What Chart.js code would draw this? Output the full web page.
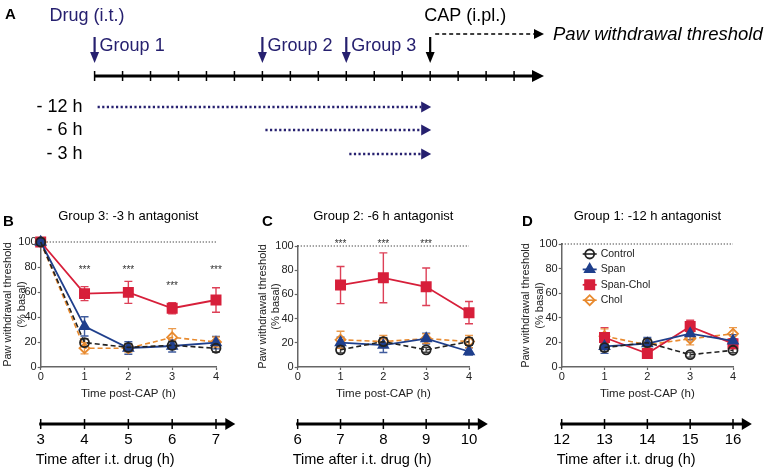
<!DOCTYPE html>
<html>
<head>
<meta charset="utf-8">
<script src="https://cdn.jsdelivr.net/npm/chart.js@4.4.1/dist/chart.umd.min.js"></script>
<style>
  html, body { margin: 0; padding: 0; background: #fff; }
  body { width: 768px; height: 471px; position: relative; overflow: hidden; }
  .box { position: absolute; }
</style>
</head>
<body>
<div class="box" style="left:0;top:0;width:768px;height:180px"><canvas id="panelA"></canvas></div>
<div class="box" style="left:0;top:190px;width:250px;height:281px"><canvas id="panelB"></canvas></div>
<div class="box" style="left:250px;top:190px;width:255px;height:281px"><canvas id="panelC"></canvas></div>
<div class="box" style="left:510px;top:190px;width:258px;height:281px"><canvas id="panelD"></canvas></div>
<script>
/*
 * Capsaicin paw withdrawal, three pretreatment groups.
 * Panel A is the protocol timeline, B-D are the time courses.
 */

var FONT = 'Arial, "Liberation Sans", Helvetica, sans-serif';

var COLORS = {
  black: '#222222',
  navy: '#1f3f8c',
  red: '#d71f3a',
  orange: '#e88a2e',
  arrow: '#26206f',
  axis: '#666666',
};

// ---- Panel A: protocol (hours relative to CAP) ----
var drugTimes = [-12, -6, -3];
var groupLabels = ['Group 1', 'Group 2', 'Group 3'];
var pretreatLabels = ['- 12 h', '- 6 h', '- 3 h'];
var capTime = 0;
var timelineTicks = [-12, -11, -10, -9, -8, -7, -6, -5, -4, -3, -2, -1, 0, 1, 2, 3];
var timelineEnd = 4.07;

// ---- Panel B: Group 3, -3 h antagonist ----
var hoursB = [0, 1, 2, 3, 4];
var controlB = [100, 19.5, 15.7, 17.3, 15];
var controlErrB = [0, 3, 3, 3, 3];
var spanB = [100, 32.5, 15.2, 16.8, 19.5];
var spanErrB = [0, 7.7, 5, 4.8, 5];
var spanCholB = [100, 58.7, 59.7, 47, 53.6];
var spanCholErrB = [0, 5.6, 8.8, 4.5, 9.8];
var cholB = [100, 15, 15, 23.7, 20];
var cholErrB = [0, 4.5, 3, 7, 4];
var sigHoursB = [1, 2, 3, 4];
var sigLevelB = [79, 79, 66, 79];
var drugHoursB = [3, 4, 5, 6, 7];

// ---- Panel C: Group 2, -6 h antagonist ----
var hoursC = [1, 2, 3, 4];
var controlC = [14.2, 21, 14.2, 21];
var controlErrC = [2.5, 3, 2, 3];
var spanC = [20.2, 18, 23.5, 12.8];
var spanErrC = [4.5, 6, 4.5, 3];
var spanCholC = [67.7, 73.7, 66.3, 44.9];
var spanCholErrC = [15.3, 20.6, 15.5, 9.2];
var cholC = [22.5, 21, 23.5, 21];
var cholErrC = [7, 5, 4, 5];
var sigHoursC = [1, 2, 3];
var sigLevelC = [103, 103, 103];
var drugHoursC = [6, 7, 8, 9, 10];

// ---- Panel D: Group 1, -12 h antagonist ----
var hoursD = [1, 2, 3, 4];
var controlD = [15.8, 19.8, 10, 13.6];
var controlErrD = [3, 3, 2, 2];
var spanD = [16.8, 19, 27.1, 21.2];
var spanErrD = [5.7, 5, 5, 5];
var spanCholD = [24, 11, 33, 19];
var spanCholErrD = [8, 3, 5, 4];
var cholD = [25, 18, 23, 27];
var cholErrD = [6, 4, 5, 5];
var sigHoursD = [];
var sigLevelD = [];
var drugHoursD = [12, 13, 14, 15, 16];

var postCapTicks = [0, 1, 2, 3, 4];
var baselineLevel = 100;

Chart.defaults.font.family = FONT;
Chart.defaults.color = COLORS.black;

/**
 * Small filled triangle arrow head; dir is 'down' or 'right'.
 */
function arrowHead(ctx, x, y, dir, len, half) {
  ctx.beginPath();
  if (dir === 'down') {
    ctx.moveTo(x, y);
    ctx.lineTo(x - half, y - len);
    ctx.lineTo(x + half, y - len);
  } else {
    ctx.moveTo(x, y);
    ctx.lineTo(x - len, y - half);
    ctx.lineTo(x - len, y + half);
  }
  ctx.closePath();
  ctx.fill();
}

function downArrow(ctx, x, top, tip, color) {
  ctx.strokeStyle = color;
  ctx.fillStyle = color;
  ctx.lineWidth = 2.2;
  ctx.setLineDash([]);
  ctx.beginPath();
  ctx.moveTo(x, top);
  ctx.lineTo(x, tip - 8);
  ctx.stroke();
  arrowHead(ctx, x, tip, 'down', 11, 4.5);
}

// rows of the protocol diagram (canvas y)
var A_ROWS = { text: 16, arrowTop: 37, arrowTip: 63, group: 46, dashed: 34, axis: 76, pretreat: [107, 130, 154] };

var protocolPlugin = {
  id: 'protocol',
  afterDraw: function (chart) {
    var ctx = chart.ctx;
    var xs = chart.scales.x;
    var px = function (h) { return xs.getPixelForValue(h); };
    var tip = px(timelineEnd);
    ctx.save();
    ctx.textBaseline = 'middle';

    ctx.fillStyle = '#000';
    ctx.font = 'bold 15px ' + FONT;
    ctx.textAlign = 'left';
    ctx.fillText('A', 5, 15);

    ctx.font = '18px ' + FONT;
    ctx.fillStyle = COLORS.arrow;
    ctx.fillText('Drug (i.t.)', px(drugTimes[0]) - 45, A_ROWS.text);
    ctx.fillStyle = '#000';
    ctx.fillText('CAP (i.pl.)', px(capTime) - 6, A_ROWS.text);

    // drug injection arrows
    drugTimes.forEach(function (t, i) {
      downArrow(ctx, px(t), A_ROWS.arrowTop, A_ROWS.arrowTip, COLORS.arrow);
      ctx.fillStyle = COLORS.arrow;
      ctx.font = '18px ' + FONT;
      ctx.fillText(groupLabels[i], px(t) + 5, A_ROWS.group);
    });
    downArrow(ctx, px(capTime), A_ROWS.arrowTop, A_ROWS.arrowTip, '#000');

    // dashed arrow to measurement
    ctx.strokeStyle = '#000';
    ctx.fillStyle = '#000';
    ctx.lineWidth = 1.5;
    ctx.setLineDash([4, 3]);
    ctx.beginPath();
    ctx.moveTo(px(capTime) + 5, A_ROWS.dashed);
    ctx.lineTo(tip - 8, A_ROWS.dashed);
    ctx.stroke();
    ctx.setLineDash([]);
    arrowHead(ctx, tip, A_ROWS.dashed, 'right', 10, 5);
    ctx.font = 'italic 18.5px ' + FONT;
    ctx.fillText('Paw withdrawal threshold', tip + 9, A_ROWS.dashed + 1);

    // main time axis
    ctx.lineWidth = 3;
    ctx.beginPath();
    ctx.moveTo(px(timelineTicks[0]), A_ROWS.axis);
    ctx.lineTo(tip - 10, A_ROWS.axis);
    ctx.stroke();
    arrowHead(ctx, tip, A_ROWS.axis, 'right', 12, 6);
    ctx.lineWidth = 1.5;
    timelineTicks.forEach(function (t) {
      ctx.beginPath();
      ctx.moveTo(px(t), A_ROWS.axis - 5);
      ctx.lineTo(px(t), A_ROWS.axis + 5);
      ctx.stroke();
    });

    // pretreatment intervals
    drugTimes.forEach(function (t, i) {
      var y = A_ROWS.pretreat[i];
      ctx.fillStyle = '#000';
      ctx.font = '18px ' + FONT;
      ctx.textAlign = 'right';
      ctx.fillText(pretreatLabels[i], px(drugTimes[0]) - 12, y);
      ctx.textAlign = 'left';
      ctx.strokeStyle = COLORS.arrow;
      ctx.fillStyle = COLORS.arrow;
      ctx.lineWidth = 2.5;
      ctx.setLineDash([2.2, 2.4]);
      ctx.beginPath();
      ctx.moveTo(px(t) + 3, y);
      ctx.lineTo(px(capTime) - 9, y);
      ctx.stroke();
      ctx.setLineDash([]);
      arrowHead(ctx, px(capTime) + 1, y, 'right', 10, 5.5);
    });
    ctx.restore();
  },
};

var errorBarPlugin = {
  id: 'errorBars',
  beforeDatasetsDraw: function (chart) {
    var ctx = chart.ctx;
    var ys = chart.scales.y;
    ctx.save();
    chart.data.datasets.forEach(function (ds, i) {
      if (!ds.errors) return;
      var meta = chart.getDatasetMeta(i);
      meta.data.forEach(function (pt, j) {
        var e = ds.errors[j];
        if (!e) return;
        var v = ds.data[j].y;
        var top = ys.getPixelForValue(v + e);
        var bot = ys.getPixelForValue(v - e);
        ctx.strokeStyle = ds.borderColor;
        ctx.globalAlpha = 0.85;
        ctx.lineWidth = 1.4;
        ctx.beginPath();
        ctx.moveTo(pt.x, top);
        ctx.lineTo(pt.x, bot);
        ctx.moveTo(pt.x - 4, top);
        ctx.lineTo(pt.x + 4, top);
        ctx.moveTo(pt.x - 4, bot);
        ctx.lineTo(pt.x + 4, bot);
        ctx.stroke();
      });
    });
    ctx.restore();
  },
};

var panelTextPlugin = {
  id: 'panelText',
  afterDraw: function (chart, args, opts) {
    var ctx = chart.ctx;
    var area = chart.chartArea;
    var xs = chart.scales.x;
    var ys = chart.scales.y;
    ctx.save();
    ctx.textBaseline = 'middle';
    ctx.fillStyle = '#000';
    ctx.font = 'bold 15px ' + FONT;
    ctx.textAlign = 'left';
    ctx.fillText(opts.letter, opts.letterX, opts.letterY);
    ctx.font = '13px ' + FONT;
    ctx.textAlign = 'center';
    ctx.fillText(opts.title, (area.left + area.right) / 2, opts.titleY);

    // significance marks
    ctx.font = '10px ' + FONT;
    ctx.fillStyle = '#333';
    (opts.sigHours || []).forEach(function (h, i) {
      ctx.fillText('***', xs.getPixelForValue(h), ys.getPixelForValue(opts.sigLevel[i]) + 2);
    });

    // legend
    if (opts.legend) {
      var items = chart.data.datasets.filter(function (ds) { return ds.legend; });
      items.forEach(function (ds, i) {
        var cx = area.left + 28;
        var cy = area.top + 10 + i * 15.4;
        ctx.strokeStyle = ds.borderColor;
        ctx.lineWidth = ds.borderWidth;
        ctx.setLineDash([]);
        ctx.beginPath();
        ctx.moveTo(cx - 7, cy);
        ctx.lineTo(cx + 7, cy);
        ctx.stroke();
        ctx.fillStyle = ds.pointBackgroundColor;
        ctx.strokeStyle = ds.pointBorderColor;
        ctx.lineWidth = ds.pointBorderWidth;
        Chart.helpers.drawPoint(ctx, {
          pointStyle: ds.pointStyle,
          radius: ds.pointRadius,
          borderWidth: ds.pointBorderWidth,
          rotation: 0,
        }, cx, cy);
        ctx.fillStyle = COLORS.black;
        ctx.font = '10.5px ' + FONT;
        ctx.textAlign = 'left';
        ctx.fillText(ds.label, cx + 11, cy);
      });
    }
    ctx.restore();
  },
};

// thick arrowed axis for time after intrathecal drug
var drugAxisPlugin = {
  id: 'drugAxis',
  afterDraw: function (chart) {
    var s = chart.scales.x2;
    if (!s) return;
    var ctx = chart.ctx;
    var y = s.top;
    var step = s.getPixelForValue(s.min + 1) - s.getPixelForValue(s.min);
    var x0 = s.getPixelForValue(s.min) - 1.5;
    var tip = s.getPixelForValue(s.max) + 0.44 * step;
    ctx.save();
    ctx.strokeStyle = '#000';
    ctx.fillStyle = '#000';
    ctx.lineWidth = 3;
    ctx.beginPath();
    ctx.moveTo(x0, y);
    ctx.lineTo(tip - 8, y);
    ctx.stroke();
    arrowHead(ctx, tip, y, 'right', 10, 6);
    ctx.lineWidth = 1.5;
    s.ticks.forEach(function (t) {
      var x = s.getPixelForValue(t.value);
      ctx.beginPath();
      ctx.moveTo(x, y - 5);
      ctx.lineTo(x, y + 5);
      ctx.stroke();
    });
    ctx.font = '14.5px ' + FONT;
    ctx.textAlign = 'left';
    ctx.textBaseline = 'middle';
    ctx.fillText('Time after i.t. drug (h)', s.left - 5, y + 36);
    ctx.restore();
  },
};

function toPoints(hours, values) {
  return hours.map(function (h, i) { return { x: h, y: values[i] }; });
}

function makeSeries(label, hours, values, errors, style) {
  return {
    label: label,
    legend: true,
    data: toPoints(hours, values),
    errors: errors,
    borderColor: style.color,
    borderWidth: style.width,
    borderDash: style.dash || [],
    pointStyle: style.point,
    pointRadius: style.radius,
    pointBackgroundColor: style.fill,
    pointBorderColor: style.color,
    pointBorderWidth: 1.8,
    tension: 0,
    clip: false,
  };
}

var SERIES_STYLE = {
  control: { color: COLORS.black, width: 1.6, dash: [5, 3], point: 'circle', radius: 4.5, fill: 'rgba(255,255,255,0)' },
  span: { color: COLORS.navy, width: 1.8, point: 'triangle', radius: 5.5, fill: COLORS.navy },
  spanChol: { color: COLORS.red, width: 1.8, point: 'rect', radius: 6.5, fill: COLORS.red },
  chol: { color: COLORS.orange, width: 1.6, dash: [5, 3], point: 'rectRot', radius: 5, fill: 'rgba(255,255,255,0)' },
};

/**
 * Create one time-course panel with its drug-time axis underneath.
 */
function createPanelChart(canvasId, p) {
  var ctx = document.getElementById(canvasId);
  if (!ctx) {
    console.error('Canvas not found: ' + canvasId);
    return null;
  }

  var datasets = [
    makeSeries('Control', p.hours, p.control, p.controlErr, SERIES_STYLE.control),
    makeSeries('Span', p.hours, p.span, p.spanErr, SERIES_STYLE.span),
    makeSeries('Span-Chol', p.hours, p.spanChol, p.spanCholErr, SERIES_STYLE.spanChol),
    makeSeries('Chol', p.hours, p.chol, p.cholErr, SERIES_STYLE.chol),
    {
      label: 'baseline',
      data: toPoints([postCapTicks[0], postCapTicks[postCapTicks.length - 1]], [baselineLevel, baselineLevel]),
      borderColor: '#333',
      borderWidth: 1,
      borderDash: [1.2, 1.8],
      pointRadius: 0,
      clip: false,
    },
  ];

  return new Chart(ctx, {
    type: 'line',
    data: { datasets: datasets },
    options: {
      responsive: true,
      maintainAspectRatio: false,
      animation: false,
      devicePixelRatio: 1,
      layout: { padding: { left: 0, top: p.top, right: p.right, bottom: 0 } },
      scales: {
        x: {
          type: 'linear',
          min: postCapTicks[0],
          max: postCapTicks[postCapTicks.length - 1],
          ticks: { stepSize: 1, color: COLORS.black, font: { size: 11 }, padding: 0 },
          grid: { drawOnChartArea: false, drawTicks: true, tickLength: 3, color: COLORS.axis, tickWidth: 1.2 },
          border: { color: COLORS.axis, width: 1.5 },
          title: {
            display: true,
            text: 'Time post-CAP (h)',
            color: COLORS.black,
            font: { size: 11.5 },
            padding: { top: 0, bottom: 23 },
          },
          afterFit: function (s) { s.height = 57; },
        },
        x2: {
          type: 'linear',
          position: 'bottom',
          min: p.drugHours[0],
          max: p.drugHours[p.drugHours.length - 1],
          ticks: { stepSize: 1, color: '#000', font: { size: 15 }, padding: 7 },
          grid: { display: false, drawTicks: false },
          border: { display: false },
          afterFit: function (s) { s.height = 47; },
        },
        y: {
          min: 0,
          max: 100,
          ticks: { stepSize: 20, color: COLORS.black, font: { size: 11 }, padding: 1 },
          grid: { drawOnChartArea: false, tickLength: 3, color: COLORS.axis, tickWidth: 1.2 },
          border: { color: COLORS.axis, width: 1.5 },
          title: {
            display: true,
            text: ['Paw withdrawal threshold', '(% basal)'],
            color: COLORS.black,
            font: { size: 11, lineHeight: 1.25 },
            padding: { top: p.yTitlePad, bottom: 0 },
          },
          afterFit: function (s) { s.width = p.yWidth; },
        },
      },
      plugins: {
        legend: { display: false },
        tooltip: { enabled: false },
        panelText: {
          letter: p.letter,
          letterX: p.letterX,
          letterY: 32,
          title: p.title,
          titleY: 26,
          sigHours: p.sigHours,
          sigLevel: p.sigLevel,
          legend: p.legend,
        },
      },
    },
    plugins: [errorBarPlugin, panelTextPlugin, drugAxisPlugin],
  });
}

new Chart(document.getElementById('panelA'), {
  type: 'scatter',
  data: { datasets: [] },
  options: {
    responsive: true,
    maintainAspectRatio: false,
    animation: false,
    devicePixelRatio: 1,
    layout: { padding: { left: 94.6, right: 224, top: 0, bottom: 0 } },
    scales: {
      x: { type: 'linear', min: timelineTicks[0], max: timelineEnd, display: false },
      y: { type: 'linear', min: 0, max: 1, display: false },
    },
    plugins: { legend: { display: false }, tooltip: { enabled: false } },
  },
  plugins: [protocolPlugin],
});

createPanelChart('panelB', {
  letter: 'B', letterX: 3, title: 'Group 3: -3 h antagonist',
  top: 52, right: 34, yWidth: 40.7, yTitlePad: 1.1,
  hours: hoursB, control: controlB, controlErr: controlErrB, span: spanB, spanErr: spanErrB,
  spanChol: spanCholB, spanCholErr: spanCholErrB, chol: cholB, cholErr: cholErrB,
  sigHours: sigHoursB, sigLevel: sigLevelB, drugHours: drugHoursB, legend: false,
});

createPanelChart('panelC', {
  letter: 'C', letterX: 12, title: 'Group 2: -6 h antagonist',
  top: 56, right: 36, yWidth: 47.7, yTitlePad: 5.6,
  hours: hoursC, control: controlC, controlErr: controlErrC, span: spanC, spanErr: spanErrC,
  spanChol: spanCholC, spanCholErr: spanCholErrC, chol: cholC, cholErr: cholErrC,
  sigHours: sigHoursC, sigLevel: sigLevelC, drugHours: drugHoursC, legend: false,
});

createPanelChart('panelD', {
  letter: 'D', letterX: 12, title: 'Group 1: -12 h antagonist',
  top: 54, right: 35, yWidth: 51.7, yTitlePad: 9.1,
  hours: hoursD, control: controlD, controlErr: controlErrD, span: spanD, spanErr: spanErrD,
  spanChol: spanCholD, spanCholErr: spanCholErrD, chol: cholD, cholErr: cholErrD,
  sigHours: sigHoursD, sigLevel: sigLevelD, drugHours: drugHoursD, legend: true,
});
</script>
</body>
</html>
